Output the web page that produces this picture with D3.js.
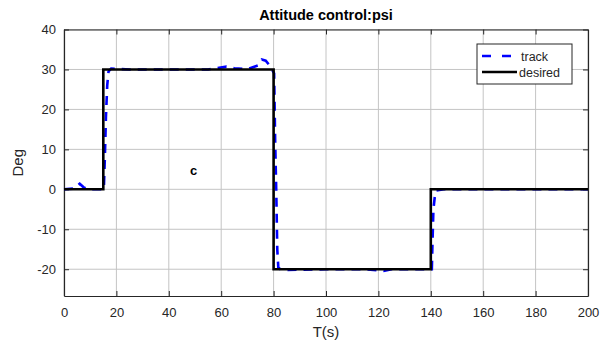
<!DOCTYPE html>
<html>

<head>
    <meta charset="utf-8">
    <script src="https://d3js.org/d3.v7.min.js"></script>
    <title>Attitude control psi</title>
    <style>
        body { margin: 0; background: #fff; }
        text { font-family: "Liberation Sans", Arial, Helvetica, sans-serif; }
    </style>
</head>

<body>
    <svg></svg>
    <script>
        // desired step signal
        const desiredT = [0, 15, 15, 80, 80, 140, 140, 200];
        const desiredV = [0, 0, 30, 30, -20, -20, 0, 0];
        // tracked response
        const trackT = [0, 4, 6, 7.5, 9, 15.2, 15.6, 16, 16.5, 17, 18, 25, 40, 55, 62, 65, 70, 74, 75.5, 77, 78.5, 80.2, 80.6, 81, 81.4, 81.8, 83, 100, 115, 122, 125, 135, 140.4, 140.7, 141, 141.5, 142, 145, 200];
        const trackV = [0, 0.2, 1.4, 0.5, 0, 0, 8, 18, 26, 29.5, 30.2, 30, 30, 30, 30.7, 30.3, 30.1, 31, 32.5, 32.2, 31, 29, 12, 0, -15, -19.6, -20.2, -20, -20, -20.4, -20, -20, -20, -12, -5, -2, -0.3, 0, 0];
        const xTicks = [0, 20, 40, 60, 80, 100, 120, 140, 160, 180, 200];
        const yTicks = [-20, -10, 0, 10, 20, 30, 40];

        const width = 610;
        const height = 345;
        const margin = { top: 29.5, right: 22, bottom: 49, left: 64 };

        const svg = d3.select("svg")
            .attr("width", width)
            .attr("height", height);

        const x = d3.scaleLinear()
            .domain([0, 200])
            .range([margin.left, width - margin.right]);
        const y = d3.scaleLinear()
            .domain([-26.7, 40])
            .range([height - margin.bottom, margin.top]);

        const x0 = x.range()[0], x1 = x.range()[1];
        const y0 = y.range()[0], y1 = y.range()[1];

        // grid
        svg.append("g")
            .selectAll("line")
            .data(xTicks)
            .enter()
            .append("line")
            .attr("x1", d => x(d)).attr("x2", d => x(d))
            .attr("y1", y0).attr("y2", y1)
            .attr("stroke", "#c4c4c4").attr("stroke-width", 1);
        svg.append("g")
            .selectAll("line")
            .data(yTicks)
            .enter()
            .append("line")
            .attr("x1", x0).attr("x2", x1)
            .attr("y1", d => y(d)).attr("y2", d => y(d))
            .attr("stroke", "#c4c4c4").attr("stroke-width", 1);

        // axes (ticks inward, box on)
        const tick = 5;
        const fmt = d => String(d);
        svg.append("g")
            .attr("transform", `translate(0,${y0})`)
            .call(d3.axisBottom(x).tickValues(xTicks).tickSizeInner(-tick).tickSizeOuter(0).tickPadding(12).tickFormat(fmt));
        svg.append("g")
            .attr("transform", `translate(${x0},0)`)
            .call(d3.axisLeft(y).tickValues(yTicks).tickSizeInner(-tick).tickSizeOuter(0).tickPadding(8).tickFormat(fmt));
        svg.append("g")
            .attr("transform", `translate(0,${y1})`)
            .call(d3.axisTop(x).tickValues(xTicks).tickSizeInner(-tick).tickSizeOuter(0).tickFormat(""));
        svg.append("g")
            .attr("transform", `translate(${x1},0)`)
            .call(d3.axisRight(y).tickValues(yTicks).tickSizeInner(-tick).tickSizeOuter(0).tickFormat(""));

        svg.selectAll(".domain").attr("stroke", "#262626").attr("stroke-width", 1.2);
        svg.selectAll(".tick line").attr("stroke", "#262626");
        svg.selectAll(".tick text")
            .attr("fill", "#262626")
            .style("font-size", "13px")
            .style("font-family", "Liberation Sans, Arial, sans-serif");

        // lines: track underneath, desired on top
        const line = d3.line().x(d => x(d[0])).y(d => y(d[1]));
        svg.append("path")
            .datum(trackT.map((t, i) => [t, trackV[i]]))
            .attr("d", line)
            .attr("fill", "none")
            .attr("stroke", "#0000ff")
            .attr("stroke-width", 2.6)
            .attr("stroke-dasharray", "9,7");
        svg.append("path")
            .datum(desiredT.map((t, i) => [t, desiredV[i]]))
            .attr("d", line)
            .attr("fill", "none")
            .attr("stroke", "#000")
            .attr("stroke-width", 2.6);

        // titles
        svg.append("text")
            .attr("x", (x0 + x1) / 2).attr("y", 20)
            .attr("text-anchor", "middle")
            .style("font-size", "14.5px").style("font-weight", "bold")
            .attr("fill", "#000")
            .text("Attitude control:psi");
        svg.append("text")
            .attr("x", (x0 + x1) / 2).attr("y", 337)
            .attr("text-anchor", "middle")
            .style("font-size", "15px")
            .attr("fill", "#262626")
            .text("T(s)");
        svg.append("text")
            .attr("transform", `translate(23,${(y0 + y1) / 2}) rotate(-90)`)
            .attr("text-anchor", "middle")
            .style("font-size", "15px")
            .attr("fill", "#262626")
            .text("Deg");
        svg.append("text")
            .attr("x", x(49.5)).attr("y", y(3.6))
            .attr("text-anchor", "middle")
            .style("font-size", "13px").style("font-weight", "bold")
            .attr("fill", "#000")
            .text("c");

        // legend
        const lg = svg.append("g").attr("transform", "translate(477,44)");
        lg.append("rect")
            .attr("width", 95).attr("height", 40)
            .attr("fill", "#fff").attr("stroke", "#262626").attr("stroke-width", 1);
        lg.append("line")
            .attr("x1", 5).attr("x2", 40).attr("y1", 12).attr("y2", 12)
            .attr("stroke", "#0000ff").attr("stroke-width", 2.6).attr("stroke-dasharray", "9,11");
        lg.append("line")
            .attr("x1", 5).attr("x2", 40).attr("y1", 28).attr("y2", 28)
            .attr("stroke", "#000").attr("stroke-width", 2.6);
        lg.append("text").attr("x", 44).attr("y", 16.5)
            .style("font-size", "12.5px").attr("fill", "#262626").text("track");
        lg.append("text").attr("x", 42).attr("y", 32.5)
            .style("font-size", "12.5px").attr("fill", "#262626").text("desired");
    </script>
</body>

</html>
